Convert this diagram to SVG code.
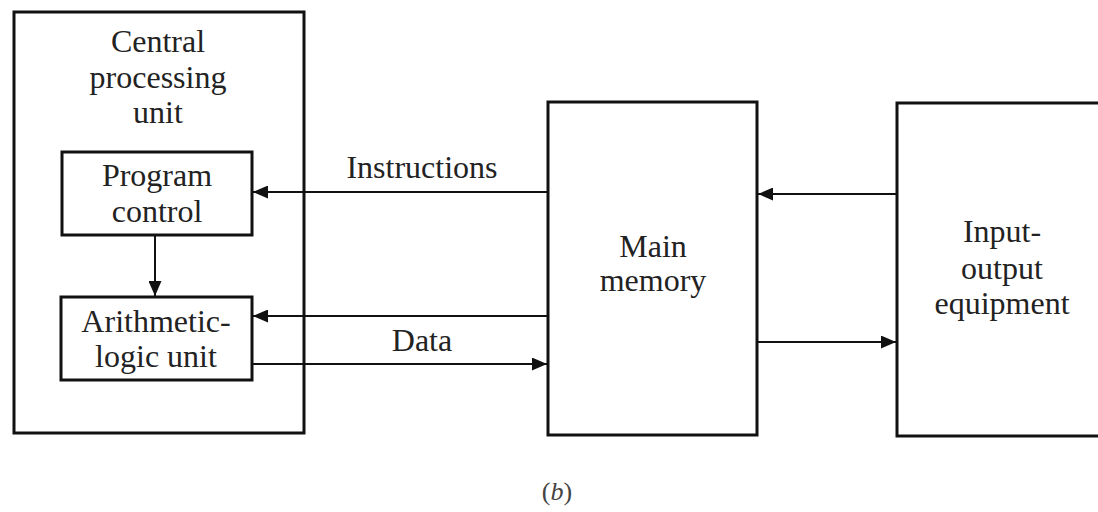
<svg xmlns="http://www.w3.org/2000/svg" width="1098" height="512" viewBox="0 0 1098 512">
<style>
.box{fill:#fff;stroke:#111;stroke-width:3}
.conn{stroke:#111;stroke-width:2;fill:none}
.lbl{font-family:"Liberation Serif","Times New Roman",serif;font-size:32px;fill:#222;text-anchor:middle}
.cap{font-family:"Liberation Serif","Times New Roman",serif;font-size:26px;fill:#444;text-anchor:middle}
</style>
<defs>
<marker id="ah" markerUnits="userSpaceOnUse" markerWidth="15" markerHeight="13" refX="15" refY="6.5" orient="auto">
<path d="M0,0 L15,6.5 L0,13 Z" fill="#111"/>
</marker>
</defs>
<rect width="1098" height="512" fill="#fff"/>
<g id="cpu">
<rect class="box" x="14" y="12" width="290" height="421"/>
<text class="lbl" x="158" y="52">Central</text>
<text class="lbl" x="158" y="88">processing</text>
<text class="lbl" x="158" y="123">unit</text>
</g>
<g id="program-control">
<rect class="box" x="62" y="152" width="190" height="83"/>
<text class="lbl" x="157" y="186">Program</text>
<text class="lbl" x="157" y="222">control</text>
</g>
<g id="alu">
<rect class="box" x="61" y="297" width="191" height="83"/>
<text class="lbl" x="156" y="332">Arithmetic-</text>
<text class="lbl" x="156" y="367">logic unit</text>
</g>
<g id="main-memory">
<rect class="box" x="548" y="102" width="209" height="333"/>
<text class="lbl" x="653" y="257">Main</text>
<text class="lbl" x="653" y="291">memory</text>
</g>
<g id="io">
<rect class="box" x="897" y="103" width="215" height="333"/>
<text class="lbl" x="1002" y="242">Input-</text>
<text class="lbl" x="1002" y="279">output</text>
<text class="lbl" x="1002" y="314">equipment</text>
</g>
<g id="connectors">
<line class="conn" x1="548" y1="192" x2="253" y2="192" marker-end="url(#ah)"/>
<line class="conn" x1="548" y1="316" x2="253" y2="316" marker-end="url(#ah)"/>
<line class="conn" x1="252" y1="364" x2="547" y2="364" marker-end="url(#ah)"/>
<line class="conn" x1="897" y1="194" x2="758" y2="194" marker-end="url(#ah)"/>
<line class="conn" x1="757" y1="342" x2="896" y2="342" marker-end="url(#ah)"/>
<line class="conn" x1="155" y1="235" x2="155" y2="296" marker-end="url(#ah)"/>
<text class="lbl" x="422" y="178">Instructions</text>
<text class="lbl" x="422" y="351">Data</text>
</g>
<text class="cap" x="557" y="500">(<tspan font-style="italic">b</tspan>)</text>
</svg>
